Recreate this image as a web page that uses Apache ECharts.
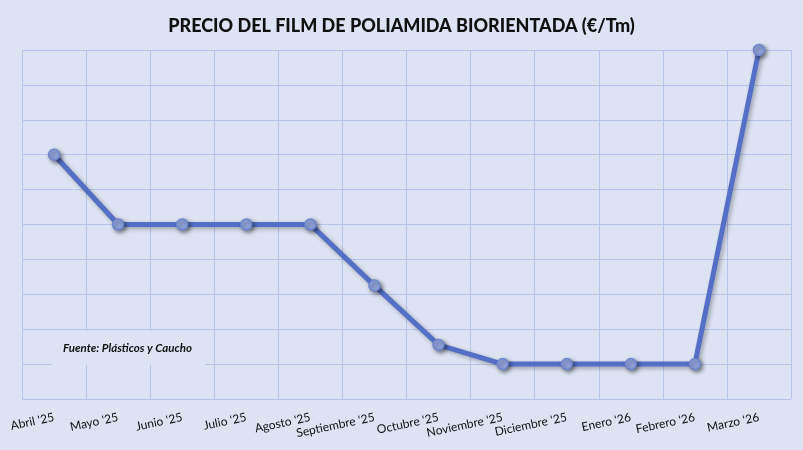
<!DOCTYPE html>
<html>
<head>
<meta charset="utf-8">
<script src="https://cdn.jsdelivr.net/npm/echarts@6/dist/echarts.min.js"></script>
<style>
  html, body { margin: 0; padding: 0; background: #dde3f3; }
  #chart { width: 803px; height: 450px; }
</style>
</head>
<body>
<div id="chart"></div>
<script>
// meses del eje x
var meses = ["Abril '25", "Mayo '25", "Junio '25", "Julio '25", "Agosto '25", "Septiembre '25",
  "Octubre '25", "Noviembre '25", "Diciembre '25", "Enero '26", "Febrero '26", "Marzo '26"];
var precio = [7, 5, 5, 5, 5, 3.25, 1.55, 1, 1, 1, 1, 10];
var tituloTexto = "PRECIO DEL FILM DE POLIAMIDA BIORIENTADA (€/Tm)";
var fuenteTexto = "Fuente: Plásticos y Caucho";

var chart = echarts.init(document.getElementById("chart"));
chart.setOption({
  backgroundColor: "#dde3f3",
  title: {
    text: tituloTexto,
    left: "center",
    top: 12,
    textStyle: { fontFamily: "Lato", fontWeight: 900, fontSize: 18, color: "#111" }
  },
  grid: { left: 22, right: 12, top: 50, bottom: 51 },
  xAxis: {
    type: "category",
    data: meses,
    boundaryGap: true,
    axisLine: { show: false },
    axisTick: { show: false },
    axisLabel: {
      interval: 0,
      rotate: 12,
      margin: 18,
      fontFamily: "Lato",
      fontSize: 12,
      color: "#111"
    },
    splitLine: { show: true, lineStyle: { color: "#b7c5ec", width: 1 } }
  },
  yAxis: {
    type: "value",
    min: 0,
    max: 10,
    interval: 1,
    axisLabel: { show: false },
    axisLine: { show: false },
    axisTick: { show: false },
    splitLine: { show: true, lineStyle: { color: "#b7c5ec", width: 1 } }
  },
  series: [{
    type: "line",
    data: precio,
    symbol: "circle",
    symbolSize: 11,
    lineStyle: {
      color: "#5470c6",
      width: 5,
      shadowColor: "rgba(0,0,0,0.3)",
      shadowBlur: 4,
      shadowOffsetX: 2,
      shadowOffsetY: 2
    },
    itemStyle: {
      color: "#93a5dd",
      borderColor: "#6f86cf",
      borderWidth: 1.5,
      shadowColor: "rgba(0,0,0,0.45)",
      shadowBlur: 4,
      shadowOffsetX: 2,
      shadowOffsetY: 2
    },
    z: 3
  }],
  graphic: [{
    type: "rect",
    left: 52,
    top: 331,
    shape: { width: 153, height: 34 },
    style: { fill: "#dde3f3" },
    z: 10
  }, {
    type: "text",
    left: 63,
    top: 342,
    style: {
      text: fuenteTexto,
      font: "italic bold 11.5px Lato",
      fill: "#111"
    },
    z: 11
  }]
});
</script>
</body>
</html>
